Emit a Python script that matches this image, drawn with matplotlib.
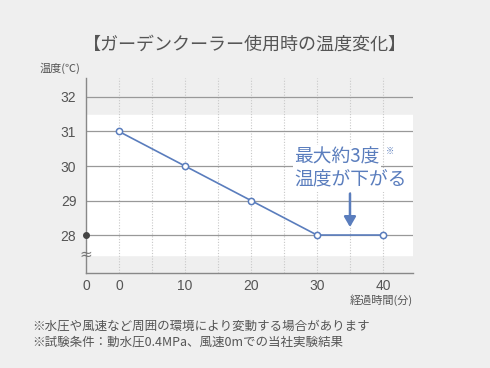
import matplotlib
matplotlib.use("Agg")
import matplotlib.pyplot as plt

plt.rcParams['font.family'] = ['Noto Sans CJK JP', 'DejaVu Sans']

# data
minutes = [0, 10, 20, 30, 40]
temps = [31, 30, 29, 28, 28]
y_ticks = [28, 29, 30, 31, 32]
x_ticks = [-5, 0, 10, 20, 30, 40]
x_tick_labels = ["0", "0", "10", "20", "30", "40"]

title = "【ガーデンクーラー使用時の温度変化】"
y_label = "温度(℃)"
x_label = "経過時間(分)"
notes = ["※水圧や風速など周囲の環境により変動する場合があります",
         "※試験条件：動水圧0.4MPa、風速0mでの当社実験結果"]

BG = "#efefef"
TXT = "#555555"
BLUE = "#5a7dbd"

fig = plt.figure(figsize=(4.9, 3.68), dpi=100, facecolor=BG)
ax = fig.add_axes([86 / 490, 1 - 273 / 368, 327 / 490, 195 / 368])
ax.set_facecolor(BG)
ax.set_xlim(-5, 44.55)
ax.set_ylim(26.9, 32.55)

# white band
ax.axhspan(27.42, 31.48, color="white", zorder=0)

# grid
for v in range(0, 45, 5):
    ax.axvline(v, color="#c8c8c8", lw=0.8, ls=(0, (1, 1.5)), zorder=1)
for t in y_ticks:
    ax.axhline(t, color="#999999", lw=0.9, zorder=1)

ax.plot(minutes, temps, color=BLUE, lw=1.2, marker="o", ms=4.5,
        mfc="white", mec=BLUE, mew=1.1, zorder=4, clip_on=False)

# origin dot on the y axis and break mark
ax.plot([-5], [28], "o", color="#444444", ms=4, zorder=5, clip_on=False)
ax.text(-5, 27.45, "≈", ha="center", va="center", fontsize=11,
        color="#777777", family="DejaVu Sans", zorder=5)

for s in ["top", "right"]:
    ax.spines[s].set_visible(False)
for s in ["left", "bottom"]:
    ax.spines[s].set_color("#888888")
    ax.spines[s].set_linewidth(1.0)

ax.set_yticks(y_ticks)
ax.set_yticklabels([str(t) for t in y_ticks])
ax.set_xticks(x_ticks)
ax.set_xticklabels(x_tick_labels)
ax.tick_params(length=0, colors=TXT, labelsize=10)
ax.tick_params(axis="x", pad=4)
ax.tick_params(axis="y", pad=7)
for lab in ax.get_xticklabels() + ax.get_yticklabels():
    lab.set_family(["Liberation Sans", "DejaVu Sans"])

# annotation
bbox = dict(fc="white", ec="none", pad=1)
ax.text(26.6, 30.26, "最大約3度", ha="left", va="center", fontsize=13.5,
        color=BLUE, bbox=bbox, zorder=6)
ax.text(40.4, 30.42, "※", ha="left", va="center", fontsize=6,
        color=BLUE, zorder=6)
ax.text(26.6, 29.6, "温度が下がる", ha="left", va="center", fontsize=13.5,
        color=BLUE, bbox=bbox, zorder=6)
ax.annotate("", xy=(35, 28.15), xytext=(35, 29.28),
            arrowprops=dict(arrowstyle="-|>,head_width=0.35,head_length=0.6",
                            color=BLUE, lw=1.8), zorder=6)

fig.text(245 / 490, 1 - 45 / 368, title, ha="center", va="center",
         fontsize=13, color=TXT)
fig.text(40 / 490, 1 - 68 / 368, y_label, ha="left", va="center",
         fontsize=8, color=TXT)
fig.text(413 / 490, 1 - 300 / 368, x_label, ha="right", va="center",
         fontsize=8, color=TXT)
fig.text(32 / 490, 1 - 326 / 368, notes[0], ha="left", va="center",
         fontsize=9, color=TXT)
fig.text(32 / 490, 1 - 342 / 368, notes[1], ha="left", va="center",
         fontsize=9, color=TXT)

fig.savefig("out.png", dpi=100, facecolor=BG)
